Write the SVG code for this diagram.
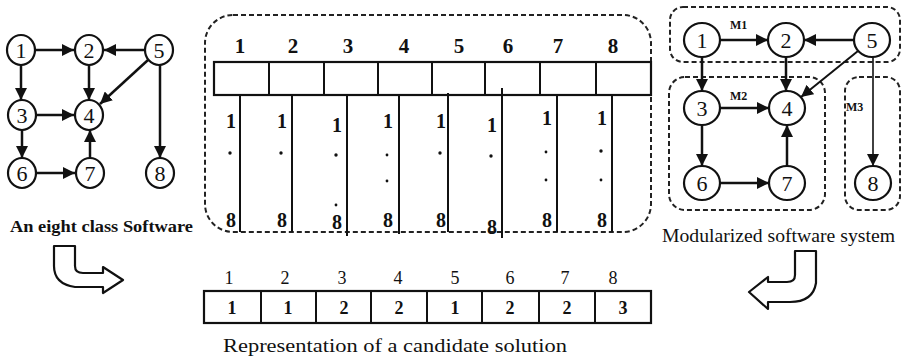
<svg xmlns="http://www.w3.org/2000/svg" width="902" height="361" viewBox="0 0 902 361">
<style>
.node ellipse{fill:#fff;stroke:#111;stroke-width:2.2}
.node text,.num{font-family:"Liberation Serif","Times New Roman",serif;font-size:22px;fill:#111;text-anchor:middle}
.edge{stroke:#111;stroke-width:2.5;fill:none;marker-end:url(#ah)}
.dash{fill:none;stroke:#222;stroke-width:2;stroke-dasharray:5 3}
.cell{fill:#fff;stroke:#111;stroke-width:2.2}
.col{stroke:#111;stroke-width:2}
.hd{font-family:"Liberation Serif","Times New Roman",serif;font-size:21px;font-weight:bold;fill:#111;text-anchor:middle}
.sm{font-family:"Liberation Serif","Times New Roman",serif;font-size:20px;font-weight:bold;fill:#111;text-anchor:middle}
.dot{fill:#111}
.cap{font-family:"Liberation Serif","Times New Roman",serif;fill:#111}
.mlab{font-family:"Liberation Serif","Times New Roman",serif;font-size:12px;font-weight:bold;fill:#111}
.big{fill:#fff;stroke:#111;stroke-width:2.2;stroke-linejoin:round}
</style>
<defs>
<marker id="ah" viewBox="0 0 12 12" refX="12" refY="6" markerWidth="12" markerHeight="12" markerUnits="userSpaceOnUse" orient="auto">
<path d="M0,0 L12,6 L0,12 z" fill="#111"/>
</marker>
</defs>

<!-- Left graph -->
<g id="left-graph-edges">
<line class="edge" x1="36" y1="50" x2="74" y2="50"/>
<line class="edge" x1="144" y1="50" x2="104" y2="50"/>
<line class="edge" x1="21" y1="65" x2="21" y2="100"/>
<line class="edge" x1="89" y1="65" x2="89" y2="100"/>
<line class="edge" x1="148" y1="60" x2="100" y2="104"/>
<line class="edge" x1="160" y1="65" x2="160" y2="158"/>
<line class="edge" x1="37" y1="115" x2="74" y2="115"/>
<line class="edge" x1="22" y1="130" x2="22" y2="158"/>
<line class="edge" x1="37" y1="173" x2="75" y2="173"/>
<line class="edge" x1="90" y1="158" x2="90" y2="130"/>
</g>
<g id="L1" class="node"><ellipse cx="21" cy="50" rx="14" ry="15"/><text x="21" y="58">1</text></g>
<g id="L2" class="node"><ellipse cx="89" cy="50" rx="14" ry="15"/><text x="89" y="58">2</text></g>
<g id="L5" class="node"><ellipse cx="159" cy="50" rx="14" ry="15"/><text x="159" y="58">5</text></g>
<g id="L3" class="node"><ellipse cx="22" cy="115" rx="14" ry="15"/><text x="22" y="123">3</text></g>
<g id="L4" class="node"><ellipse cx="89" cy="115" rx="14" ry="15"/><text x="89" y="123">4</text></g>
<g id="L6" class="node"><ellipse cx="22" cy="173" rx="14" ry="15"/><text x="22" y="181">6</text></g>
<g id="L7" class="node"><ellipse cx="90" cy="173" rx="14" ry="15"/><text x="90" y="181">7</text></g>
<g id="L8" class="node"><ellipse cx="160" cy="173" rx="14" ry="15"/><text x="160" y="181">8</text></g>
<text class="cap" x="10" y="232" font-size="17" font-weight="bold" textLength="183" lengthAdjust="spacingAndGlyphs">An eight class Software</text>

<!-- Middle encoding -->
<g id="encoding">
<rect class="dash" x="205" y="15" width="446" height="217" rx="28" ry="28"/>
<g>
<rect class="cell" x="214" y="62" width="437" height="33"/>
<line class="col" x1="269" y1="62" x2="269" y2="95"/>
<line class="col" x1="324" y1="62" x2="324" y2="95"/>
<line class="col" x1="378" y1="62" x2="378" y2="95"/>
<line class="col" x1="432" y1="62" x2="432" y2="95"/>
<line class="col" x1="485" y1="62" x2="485" y2="95"/>
<line class="col" x1="540" y1="62" x2="540" y2="95"/>
<line class="col" x1="596" y1="62" x2="596" y2="95"/>
</g>
<text class="hd" x="240" y="53">1</text>
<text class="hd" x="293" y="53">2</text>
<text class="hd" x="348" y="53">3</text>
<text class="hd" x="404" y="53">4</text>
<text class="hd" x="459" y="53">5</text>
<text class="hd" x="508" y="53">6</text>
<text class="hd" x="558" y="53">7</text>
<text class="hd" x="613" y="53">8</text>
<line class="col" x1="240" y1="94" x2="240" y2="232"/>
<line class="col" x1="292" y1="95" x2="292" y2="232"/>
<line class="col" x1="347" y1="95" x2="347" y2="236"/>
<line class="col" x1="399" y1="95" x2="399" y2="234"/>
<line class="col" x1="448" y1="93" x2="448" y2="232"/>
<line class="col" x1="502" y1="88" x2="502" y2="238"/>
<line class="col" x1="557" y1="95" x2="557" y2="232"/>
<line class="col" x1="612" y1="95" x2="612" y2="232"/>
<g class="sm">
<text x="231" y="128">1</text><text x="231" y="227">8</text>
<text x="282" y="128">1</text><text x="282" y="227">8</text>
<text x="337" y="132">1</text><text x="337" y="229">8</text>
<text x="388" y="128">1</text><text x="388" y="227">8</text>
<text x="441" y="128">1</text><text x="441" y="227">8</text>
<text x="492" y="132">1</text><text x="492" y="234">8</text>
<text x="547" y="125">1</text><text x="547" y="227">8</text>
<text x="602" y="125">1</text><text x="602" y="227">8</text>
</g>
<g class="dot">
<circle cx="230" cy="153" r="1.7"/>
<circle cx="281" cy="153" r="1.7"/>
<circle cx="336" cy="155" r="1.7"/><circle cx="336" cy="205" r="1.4"/>
<circle cx="387" cy="155" r="1.4"/><circle cx="387" cy="181" r="1.4"/>
<circle cx="440" cy="153" r="1.7"/>
<circle cx="491" cy="156" r="1.7"/>
<circle cx="546" cy="152" r="1.4"/><circle cx="546" cy="180" r="1.4"/>
<circle cx="601" cy="151" r="1.7"/><circle cx="601" cy="180" r="1.4"/>
</g>
</g>

<!-- Right graph modules -->
<g id="modules">
<rect class="dash" x="670" y="7" width="230" height="55" rx="13" ry="13"/>
<rect class="dash" x="669" y="77" width="156" height="133" rx="16" ry="16"/>
<rect class="dash" x="845" y="77" width="55" height="133" rx="14" ry="14"/>
<text class="mlab" x="730" y="29">M1</text>
<text class="mlab" x="730" y="100">M2</text>
<text class="mlab" x="846" y="111">M3</text>
</g>
<g id="right-graph-edges">
<line class="edge" x1="720" y1="40" x2="768" y2="40"/>
<line class="edge" x1="854" y1="40" x2="804" y2="40"/>
<line class="edge" x1="702" y1="57" x2="702" y2="91"/>
<line class="edge" x1="786" y1="57" x2="786" y2="91"/>
<line class="edge" x1="858" y1="51" x2="801" y2="97" style="stroke-width:2"/>
<line class="edge" x1="873" y1="57" x2="873" y2="166" style="stroke-width:1.6"/>
<line class="edge" x1="720" y1="108" x2="769" y2="108"/>
<line class="edge" x1="702" y1="125" x2="702" y2="166"/>
<line class="edge" x1="720" y1="183" x2="769" y2="183"/>
<line class="edge" x1="787" y1="166" x2="787" y2="125"/>
</g>
<g id="R1" class="node"><ellipse cx="702" cy="40" rx="18" ry="17"/><text x="702" y="48">1</text></g>
<g id="R2" class="node"><ellipse cx="786" cy="40" rx="18" ry="17"/><text x="786" y="48">2</text></g>
<g id="R5" class="node"><ellipse cx="872" cy="40" rx="18" ry="17"/><text x="872" y="48">5</text></g>
<g id="R3" class="node"><ellipse cx="702" cy="108" rx="18" ry="17"/><text x="702" y="116">3</text></g>
<g id="R4" class="node"><ellipse cx="787" cy="108" rx="18" ry="17"/><text x="787" y="116">4</text></g>
<g id="R6" class="node"><ellipse cx="702" cy="183" rx="18" ry="17"/><text x="702" y="191">6</text></g>
<g id="R7" class="node"><ellipse cx="787" cy="183" rx="18" ry="17"/><text x="787" y="191">7</text></g>
<g id="R8" class="node"><ellipse cx="873" cy="183" rx="18" ry="17"/><text x="873" y="191">8</text></g>
<text class="cap" x="662" y="242" font-size="18" textLength="233" lengthAdjust="spacingAndGlyphs">Modularized software system</text>

<!-- Hollow arrows -->
<g id="arrow-left">
<path class="big" d="M54,246 L75,246 L75,266 Q75,273 83,273 L103,273 L103,267 L123,280 L103,293 L103,287 L75,287 Q54,284 54,266 Z"/>
</g>
<g id="arrow-right">
<path class="big" d="M795,251 L816,251 L816,283 Q813,302 790,302 L768,302 L768,309 L749,292 L768,277 L768,282 L787,282 Q795,282 795,275 Z"/>
</g>

<!-- Candidate solution -->
<g id="solution">
<rect class="cell" x="204" y="291" width="447" height="32"/>
<line class="col" x1="261" y1="291" x2="261" y2="323"/>
<line class="col" x1="316" y1="291" x2="316" y2="323"/>
<line class="col" x1="371" y1="291" x2="371" y2="323"/>
<line class="col" x1="427" y1="291" x2="427" y2="323"/>
<line class="col" x1="482" y1="291" x2="482" y2="323"/>
<line class="col" x1="539" y1="291" x2="539" y2="323"/>
<line class="col" x1="595" y1="291" x2="595" y2="323"/>
<g class="num" style="font-size:18px">
<text x="229" y="284">1</text><text x="285" y="284">2</text><text x="342" y="284">3</text><text x="398" y="284">4</text>
<text x="455" y="284">5</text><text x="510" y="284">6</text><text x="565" y="284">7</text><text x="613" y="284">8</text>
</g>
<g class="num" style="font-size:18px;font-weight:bold">
<text x="232" y="314">1</text><text x="288" y="314">1</text><text x="344" y="314">2</text><text x="399" y="314">2</text>
<text x="455" y="314">1</text><text x="510" y="314">2</text><text x="567" y="314">2</text><text x="623" y="314">3</text>
</g>
<text class="cap" x="223" y="352" font-size="18" textLength="344" lengthAdjust="spacingAndGlyphs">Representation of a candidate solution</text>
</g>
</svg>
